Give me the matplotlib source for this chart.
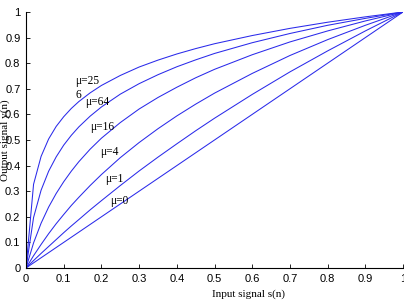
"""Mu-law companding curves, redrawn from the reference picture."""

import matplotlib

matplotlib.use("Agg")
import matplotlib.pyplot as plt

# input signal samples
x_vals = [0, 0.02, 0.04, 0.06, 0.08, 0.10, 0.12, 0.14, 0.17, 0.2, 0.25, 0.3,
          0.35, 0.4, 0.45, 0.5, 0.6, 0.7, 0.8, 0.9, 1.0]

# output signal for each mu
y_mu0 = [0, 0.02, 0.04, 0.06, 0.08, 0.10, 0.12, 0.14, 0.17, 0.2, 0.25, 0.3,
         0.35, 0.4, 0.45, 0.5, 0.6, 0.7, 0.8, 0.9, 1.0]
y_mu1 = [0, 0.029, 0.057, 0.084, 0.111, 0.138, 0.164, 0.189, 0.227, 0.263, 0.322, 0.379,
         0.433, 0.485, 0.536, 0.585, 0.678, 0.766, 0.848, 0.926, 1.0]
y_mu4 = [0, 0.048, 0.092, 0.134, 0.173, 0.209, 0.244, 0.276, 0.322, 0.365, 0.431, 0.490,
         0.544, 0.594, 0.640, 0.683, 0.760, 0.830, 0.892, 0.948, 1.0]
y_mu16 = [0, 0.098, 0.175, 0.238, 0.291, 0.337, 0.378, 0.415, 0.464, 0.507, 0.568, 0.621,
          0.666, 0.706, 0.743, 0.776, 0.833, 0.883, 0.926, 0.965, 1.0]
y_mu64 = [0, 0.197, 0.304, 0.378, 0.434, 0.480, 0.518, 0.551, 0.593, 0.629, 0.679, 0.720,
          0.755, 0.786, 0.813, 0.838, 0.880, 0.916, 0.948, 0.975, 1.0]
y_mu256 = [0, 0.327, 0.436, 0.504, 0.553, 0.591, 0.623, 0.650, 0.684, 0.713, 0.752, 0.785,
           0.812, 0.836, 0.857, 0.876, 0.908, 0.936, 0.960, 0.981, 1.0]

curves = [y_mu0, y_mu1, y_mu4, y_mu16, y_mu64, y_mu256]
labels = ["\u03bc=0", "\u03bc=1", "\u03bc=4", "\u03bc=16", "\u03bc=64", "\u03bc=25\n6"]
label_pos = [(0.223, 0.262), (0.210, 0.348), (0.196, 0.453),
             (0.170, 0.551), (0.156, 0.648), (0.130, 0.703)]

x_ticks = [0, 0.1, 0.2, 0.3, 0.4, 0.5, 0.6, 0.7, 0.8, 0.9, 1]
x_tick_labels = ["0", "0.1", "0.2", "0.3", "0.4", "0.5", "0.6", "0.7", "0.8", "0.9", "1"]
y_ticks = [0, 0.1, 0.2, 0.3, 0.4, 0.5, 0.6, 0.7, 0.8, 0.9, 1]
y_tick_labels = ["0", "0.1", "0.2", "0.3", "0.4", "0.5", "0.6", "0.7", "0.8", "0.9", "1"]

fig = plt.figure(figsize=(4.04, 3.02), dpi=100)
ax = fig.add_axes([0.0644, 0.1126, 0.9332, 0.8477])

for y in curves:
    ax.plot(x_vals, y, color="#2a2aea", linewidth=0.75)

for text, (tx, ty) in zip(labels, label_pos):
    ax.text(tx, ty, text, fontsize=8.3, family="Liberation Serif",
            ha="left", va="center", linespacing=1.2)

ax.set_xlim(0, 1)
ax.set_ylim(0, 1)
ax.set_xticks(x_ticks)
ax.set_xticklabels(x_tick_labels)
ax.set_yticks(y_ticks)
ax.set_yticklabels(y_tick_labels)
ax.tick_params(direction="in", length=3, width=0.6, labelsize=8, pad=4)
for lbl in ax.get_xticklabels() + ax.get_yticklabels():
    lbl.set_family("Liberation Sans")
ax.spines["top"].set_visible(False)
ax.spines["right"].set_visible(False)
ax.spines["left"].set_linewidth(0.8)
ax.spines["bottom"].set_linewidth(0.8)

fig.text(249 / 404, 1 - 294 / 302, "Input signal s(n)", family="Liberation Serif",
         fontsize=8, ha="center", va="center")
fig.text(5 / 404, 1 - 140 / 302, "Output signal y(n)", family="Liberation Serif",
         fontsize=8, ha="center", va="center", rotation=90, zorder=0)

fig.savefig("out.png", dpi=100)
